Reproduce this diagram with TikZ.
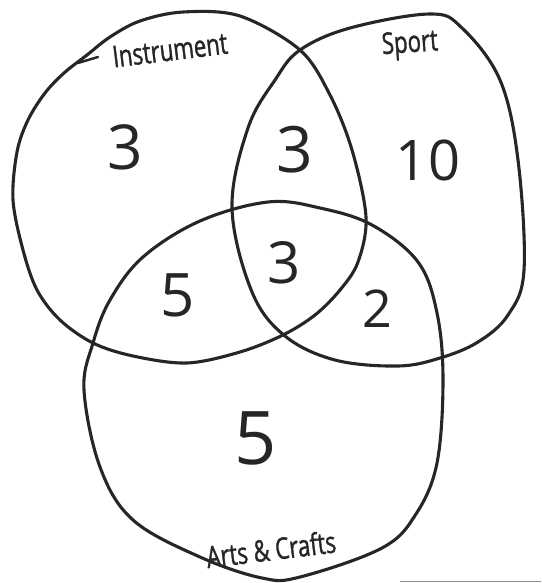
\documentclass[tikz,border=0pt]{standalone}
\usepackage{fontspec}
\setmainfont{Open Sans}
\newfontfamily\lblfont[FakeStretch=0.74,FakeBold=1.2]{Open Sans}
\begin{document}
\begin{tikzpicture}[x=1pt,y=-1pt,
  ring/.style={line width=3.1pt,draw=black!85,line join=round,line cap=round},
  num/.style={inner sep=0pt,text=black!85},
  lbl/.style={inner sep=0pt,text=black!85,font=\lblfont\fontsize{30}{30}\selectfont}]
\useasboundingbox (0,0) rectangle (541,583);
% Instrument
\draw[ring] plot[smooth cycle,tension=0.55] coordinates {
 (183,12) (240,16) (300,50) (330,95) (352,150) (366,217) (358,262)
 (340,290) (315,315) (283,335) (240,352) (187,363) (133,356) (93,343)
 (60,320) (37,290) (23,250) (13,200) (17,152) (28,120) (45,93) (64,73)
 (87,55) (110,37) (140,21)};
\coordinate (tickA) at (78,63);
\coordinate (tickB) at (98,57);
\draw[ring,line width=2.4pt] (tickA) -- (tickB);
% Sport
\draw[ring] plot[smooth cycle,tension=0.6] coordinates {
 (300,50) (350,28) (430,14) (462,28) (500,80) (518,160) (524,270)
 (508,315) (478,342) (440,358) (398,366) (335,360) (285,336) (252,292)
 (232,208) (248,128) (275,80)};
% Arts & Crafts
\draw[ring] plot[smooth cycle,tension=0.6] coordinates {
 (268,202) (320,208) (372,225) (418,262) (437,313) (443,380) (437,463)
 (416,514) (382,548) (300,577) (262,578) (200,557) (133,520) (100,467)
 (84,390) (93,343) (110,300) (143,257) (200,221)};
% labels
\node[lbl,rotate=7] (instr) at (170,50) {Instrument};
\node[lbl,rotate=4] (sport) at (410,45) {Sport};
\node[lbl,rotate=7] (arts) at (271,549) {Arts \& Crafts};
% numbers
\node[num,font=\fontsize{62}{62}\selectfont] (n1) at (125,147) {3};
\node[num,font=\fontsize{64}{64}\selectfont] (n2) at (295,150) {3};
\node[num,font=\fontsize{56}{56}\selectfont] (n3) at (428,160) {10};
\node[num,font=\fontsize{60}{60}\selectfont] (n4) at (178,295) {5};
\node[num,font=\fontsize{58}{58}\selectfont] (n5) at (284,263) {3};
\node[num,font=\fontsize{52}{52}\selectfont] (n6) at (377,309) {2};
\node[num,font=\fontsize{74}{74}\selectfont] (n7) at (256,438) {5};
% scan edge
\coordinate (edgeA) at (400,581);
\coordinate (edgeB) at (541,581);
\draw[black!45,line width=1pt] (edgeA) -- (edgeB);
\end{tikzpicture}
\end{document}
